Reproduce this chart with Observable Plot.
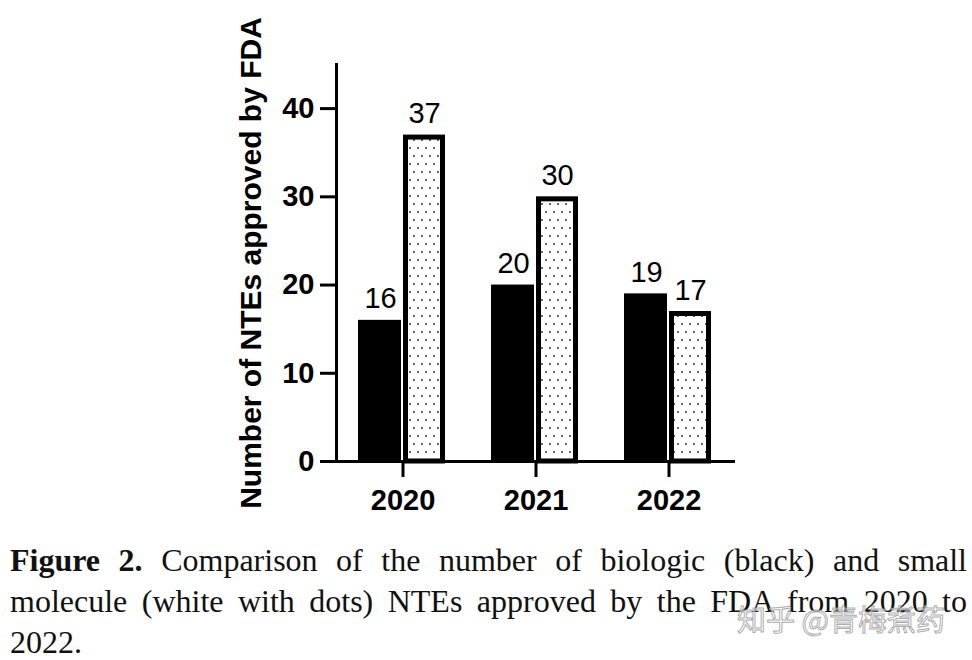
<!DOCTYPE html>
<html>
<head>
<meta charset="utf-8">
<script src="https://cdn.jsdelivr.net/npm/d3@7"></script>
<script src="https://cdn.jsdelivr.net/npm/@observablehq/plot@0.6"></script>
<style>
  html, body { margin: 0; padding: 0; background: #fff; }
  #wrap { position: relative; width: 972px; height: 660px; overflow: hidden; }
  #caption { position: absolute; left: 10px; top: 540px; width: 957px;
    font-family: "Liberation Serif", "DejaVu Serif", serif; font-size: 32px; line-height: 41px; color: #111; }
  #caption .j { text-align: justify; text-align-last: justify; white-space: nowrap; }
  #wm { position: absolute; left: 737px; top: 597px; font-family: "Noto Sans CJK SC", sans-serif;
    font-size: 29px; color: rgba(255,255,255,0.55); -webkit-text-stroke: 1px rgba(150,150,150,0.8); white-space: nowrap; }
</style>
</head>
<body>
<div id="wrap">
  <div id="chart"></div>
  <div id="caption">
    <div class="j"><b>Figure 2.</b> Comparison of the number of biologic (black) and small</div>
    <div class="j">molecule (white with dots) NTEs approved by the FDA from 2020 to</div>
    <div>2022.</div>
  </div>
  <div id="wm">知乎 @青梅煮药</div>
</div>
<script>
const years = ["2020", "2021", "2022"];
const biologic = [16, 20, 19];
const smallMolecule = [37, 30, 17];
const yTicks = [0, 10, 20, 30, 40];
const yLabel = "Number of NTEs approved by FDA";

const bioData = years.map((year, i) => ({year, value: biologic[i]}));
const smData = years.map((year, i) => ({year, value: smallMolecule[i]}));

const svg = Plot.plot({
  width: 972,
  height: 530,
  marginLeft: 336,
  marginRight: 237,
  marginTop: 64,
  marginBottom: 69,
  style: {fontFamily: "Liberation Sans, Arial, sans-serif", color: "#000", background: "#fff"},
  x: {domain: years, padding: 0, axis: null},
  y: {domain: [0, 45], axis: null},
  marks: [
    Plot.barY(bioData, {x: "year", y: "value", fill: "black", insetLeft: 22, insetRight: 68}),
    Plot.barY(smData, {x: "year", y: "value", fill: "url(#dots)", stroke: "black", strokeWidth: 5,
      insetLeft: 69.5, insetRight: 26.5, insetTop: 2.5}),
    Plot.text(bioData, {x: "year", y: "value", text: d => String(d.value), dx: -22.5, dy: -12,
      lineAnchor: "bottom", fontSize: 29, fill: "#000"}),
    Plot.text(smData, {x: "year", y: "value", text: d => String(d.value), dx: 21.5, dy: -12,
      lineAnchor: "bottom", fontSize: 29, fill: "#000"}),
    Plot.ruleY([0], {strokeWidth: 3, stroke: "#000"}),
    Plot.frame({anchor: "left", strokeWidth: 3, stroke: "#000"}),
    Plot.axisY({ticks: yTicks, tickSize: 16, tickPadding: 6, strokeWidth: 3, fontSize: 29, fontWeight: "bold",
      tickFormat: d => String(d), label: null}),
    Plot.axisY({ticks: [], tickSize: 0, fontSize: 30, fontWeight: "bold",
      label: yLabel, labelAnchor: "center", labelOffset: 97, labelArrow: "none"}),
    Plot.axisX({tickSize: 16, tickPadding: 12, strokeWidth: 3, fontSize: 29, fontWeight: "bold", label: null})
  ]
});

// dotted fill pattern
const defs = d3.select(svg).insert("defs", ":first-child");
const pat = defs.append("pattern").attr("id", "dots").attr("patternUnits", "userSpaceOnUse")
  .attr("width", 8).attr("height", 16);
pat.append("rect").attr("width", 8).attr("height", 16).attr("fill", "#fff");
pat.append("circle").attr("cx", 2).attr("cy", 4).attr("r", 0.95).attr("fill", "#222");
pat.append("circle").attr("cx", 6).attr("cy", 12).attr("r", 0.95).attr("fill", "#222");

document.getElementById("chart").appendChild(svg);
</script>
</body>
</html>
